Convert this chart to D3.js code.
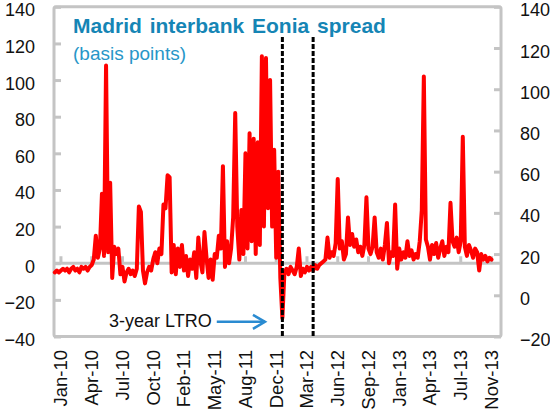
<!DOCTYPE html>
<html><head><meta charset="utf-8">
<script src="https://cdn.jsdelivr.net/npm/d3@7"></script>
<style>body{margin:0;background:#fff}svg{display:block}text{font-family:"Liberation Sans",Arial,sans-serif}</style>
</head><body><svg id="c" width="550" height="417"></svg>
<script>
// ---- data ----
const tickLabels = ["Jan-10","Apr-10","Jul-10","Oct-10","Feb-11","May-11","Aug-11","Dec-11","Mar-12","Jun-12","Sep-12","Jan-13","Apr-13","Jul-13","Nov-13"];
const tickIndex = [3,18,33,48,63,78,93,108,123,138,153,168,183,198,213];
const leftTicks = [-40,-20,0,20,40,60,80,100,120,140];
const rightTicks = [-20,0,20,40,60,80,100,120,140];
const ltroIndex = [111,126];
const spread = [
 -5,-4,-5,-4,-3,-4,-3,-5,-3,-2,
 -4,-3,-5,-2,-3,-2,-4,-2,-1,2,
 15,3,8,38,4,108,6,44,-8,9,
 5,8,-6,-2,-10,-5,-3,-6,-4,-7,
 -3,31,28,-4,-11,-5,-2,-4,2,6,
 0,8,5,32,30,48,47,-5,10,-6,
 8,-2,10,-4,4,-7,2,-3,6,-8,
 14,1,-5,17,3,-8,2,-9,5,3,
 15,8,53,-2,12,0,8,25,82,20,
 2,29,5,60,8,71,12,68,5,66,
 10,113,20,112,30,100,20,62,3,50,
 -8,-30,-5,-3,-6,-2,-4,-6,-2,8,
 -7,-3,-5,-2,-4,-2,-4,-1,-3,-1,
 0,1,2,14,3,6,4,11,46,8,
 12,2,5,25,10,16,9,13,6,9,
 4,10,36,8,5,9,25,6,3,8,
 2,10,22,0,6,4,32,-3,8,2,
 6,3,12,4,7,2,5,3,12,29,
 102,13,9,2,10,5,11,3,8,12,
 4,9,6,33,12,9,14,6,12,69,
 9,4,10,7,3,8,6,-4,5,2,
 4,1,3,2
];
const annotationText = "3-year LTRO";
const titleText = "Madrid interbank Eonia spread";
const subtitleText = "(basis points)";

// ---- layout ----
const svg = d3.select("#c");
const L = 54, R = 501, T = 6.8, B = 336.5;
const grey = "#c4c4c4";
const x = d3.scaleLinear().domain([0, spread.length - 1]).range([54.8, 491.5]);
const yL = d3.scaleLinear().domain([-40, 140]).range([B, T]);
const yR = d3.scaleLinear().domain([-20, 140]).range([B, T]);

// zero line
svg.append("line").attr("x1", L).attr("x2", R).attr("y1", yL(0)).attr("y2", yL(0))
  .attr("stroke", grey).attr("stroke-width", 3);
// category ticks on zero line
svg.append("g").selectAll("line").data(tickIndex).join("line")
  .attr("x1", d => x(d)).attr("x2", d => x(d))
  .attr("y1", yL(0)).attr("y2", yL(0) - 7)
  .attr("stroke", grey).attr("stroke-width", 3);

// left axis
const gl = svg.append("g").attr("transform", `translate(${L},0)`)
  .call(d3.axisLeft(yL).tickValues(leftTicks).tickSize(-7).tickPadding(19));
// right axis
const gr = svg.append("g").attr("transform", `translate(${R},0)`)
  .call(d3.axisRight(yR).tickValues(rightTicks).tickSize(-7).tickPadding(19));
[gl, gr].forEach(g => {
  g.select(".domain").remove();
  g.selectAll(".tick line").attr("stroke", grey).attr("stroke-width", 3);
  g.selectAll(".tick text").attr("font-size", 18).attr("fill", "#111").attr("dy", "0.5em")
    .style("font-family", '"Liberation Sans",Arial,sans-serif');
});

// border
svg.append("rect").attr("x", L).attr("y", T).attr("width", R - L).attr("height", B - T)
  .attr("fill", "none").attr("stroke", grey).attr("stroke-width", 3).attr("rx", 2);

// x labels
svg.append("g").selectAll("text").data(tickIndex).join("text")
  .attr("transform", d => `translate(${x(d)},350) rotate(-90)`)
  .attr("text-anchor", "end").attr("dy", "0.35em")
  .attr("font-size", 18.5).attr("fill", "#111")
  .text((d, i) => tickLabels[i]);

// series line
svg.append("path").datum(spread)
  .attr("d", d3.line().x((d, i) => x(i)).y(d => yL(d)))
  .attr("fill", "none").attr("stroke", "#ff0000").attr("stroke-width", 4)
  .attr("stroke-linejoin", "round").attr("stroke-linecap", "round");

// LTRO dashed lines
svg.append("g").selectAll("line").data(ltroIndex).join("line")
  .attr("x1", d => x(d)).attr("x2", d => x(d))
  .attr("y1", 37).attr("y2", B)
  .attr("stroke", "#000").attr("stroke-width", 3).attr("stroke-dasharray", "5,2");

// title
svg.append("text").attr("x", 73).attr("y", 33).attr("font-size", 21).attr("font-weight", "bold")
  .attr("word-spacing", 2).attr("fill", "#1585b5").text(titleText);
svg.append("text").attr("x", 73).attr("y", 60).attr("font-size", 19)
  .attr("fill", "#2796c8").text(subtitleText);

// annotation
svg.append("text").attr("x", x(76.5)).attr("y", yL(-35)).attr("text-anchor", "end")
  .attr("font-size", 18).attr("fill", "#111").text(annotationText);
const ax0 = x(79), ax1 = x(102.5), ay = yL(-32);
const blue = "#2a8bd1";
svg.append("line").attr("x1", ax0).attr("x2", ax1).attr("y1", ay).attr("y2", ay)
  .attr("stroke", blue).attr("stroke-width", 2.5);
svg.append("path").attr("d", `M${ax1 - 12},${ay - 7}L${ax1},${ay}L${ax1 - 12},${ay + 7}`)
  .attr("fill", "none").attr("stroke", blue).attr("stroke-width", 2.5);
</script></body></html>
